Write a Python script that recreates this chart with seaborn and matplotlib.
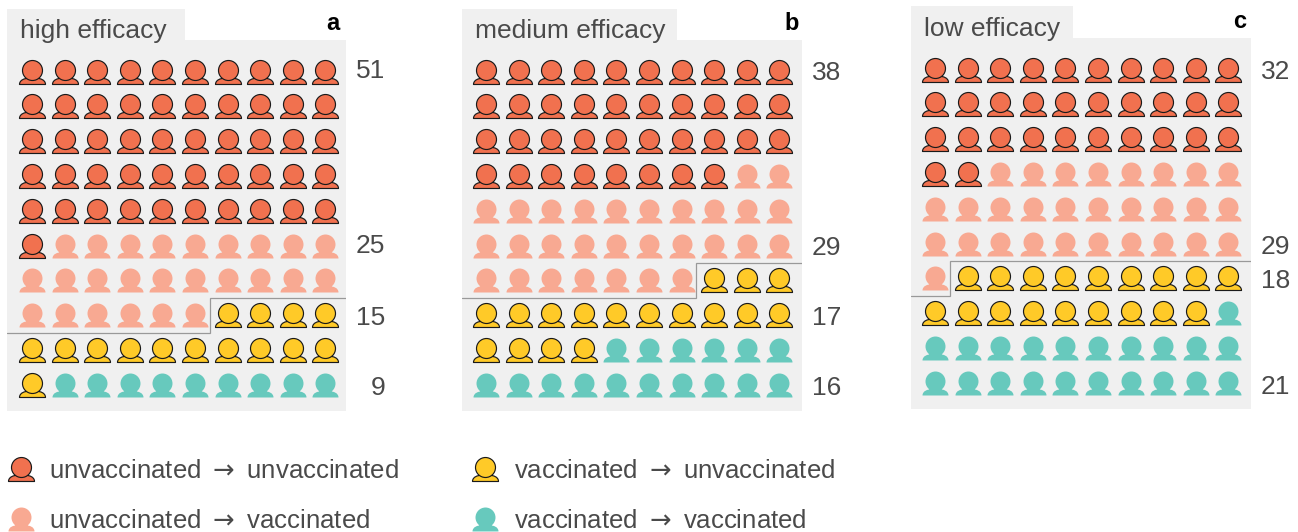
import numpy as np
import pandas as pd
import seaborn as sns
import matplotlib.pyplot as plt
from matplotlib.lines import Line2D
from matplotlib.patches import Rectangle
from matplotlib.path import Path

outcomes = ["uu", "uv", "vu", "vv"]
outcome_labels = [
    r"unvaccinated $\rightarrow$ unvaccinated",
    r"unvaccinated $\rightarrow$ vaccinated",
    r"vaccinated $\rightarrow$ unvaccinated",
    r"vaccinated $\rightarrow$ vaccinated",
]
palette = ["#F1714F", "#F8A992", "#FFCA28", "#67C9BD"]
outlined = [True, False, True, False]

titles = ["high efficacy", "medium efficacy", "low efficacy"]
letters = ["a", "b", "c"]
high_counts = [51, 25, 15, 9]
medium_counts = [38, 29, 17, 16]
low_counts = [32, 29, 18, 21]
label_rows = [[0, 5, 7, 9], [0, 5, 7, 9], [0, 5, 6, 9]]

W, H = 1298, 532
DPI = 100
INK = "#4a4a4a"
PANEL = "#f0f0f0"
FS = 19
# left, top, right, bottom of gray panel + tab width/height, in pixels
boxes = [(7, 40, 346, 411, 178, 31), (462, 40, 802, 411, 215, 31), (911, 38, 1251, 409, 162, 32)]
first_col_px = [32, 486, 935]
COL_PX = 32.6
letter_x = [333, 792, 1240]
# small vertical nudges of the count labels, points
label_nudge = [[0.3, -0.4, -2.2, -2.2], [-1.2, -1.9, -2.2, -2.2], [-1.9, -2.6, -2.2, -2.9]]

sns.set_theme(style="white")
plt.rcParams["font.family"] = ["Liberation Sans", "DejaVu Sans"]


def person():
    # shoulders stop at the head so no line crosses it
    shoulders = Path(
        [(-6, -6), (-7, -6), (-13, -7), (-13, -12), (13, -12), (13, -7), (7, -6), (6, -6)],
        [Path.MOVETO, Path.CURVE4, Path.CURVE4, Path.CURVE4, Path.LINETO,
         Path.CURVE4, Path.CURVE4, Path.CURVE4],
    )
    head = Path.circle((0, 2), 10)
    return Path.make_compound_path(shoulders, head)


PERSON = person()
SIZE = 350


def px_axes(fig, l, t, r, b):
    return fig.add_axes([l / W, 1 - b / H, (r - l) / W, (b - t) / H])


def grid(counts):
    df = pd.DataFrame({"outcome": np.repeat(outcomes, counts)})
    df["col"] = np.arange(len(df)) % 10
    df["row"] = np.arange(len(df)) // 10
    return df


fig = plt.figure(figsize=(W / DPI, H / DPI), dpi=DPI)

for i, counts in enumerate([high_counts, medium_counts, low_counts]):
    l, t, r, b, tab_w, tab_h = boxes[i]
    ax = px_axes(fig, l, t, r, b)
    ax.set_facecolor(PANEL)
    df = grid(counts)
    for name, color, edge in zip(outcomes, palette, outlined):
        sns.scatterplot(
            data=df[df.outcome == name], x="col", y="row", ax=ax, color=color,
            marker=PERSON, s=SIZE, linewidth=0.85 if edge else 0,
            edgecolor="#1a1a1a" if edge else color, legend=False, zorder=3,
        )
    x0 = (l - first_col_px[i]) / COL_PX
    x1 = (r - first_col_px[i]) / COL_PX
    ax.set_xlim(x0, x1)
    ax.set_ylim(9.75, -0.905)
    ax.set_xticks([])
    ax.set_yticks([])
    ax.set_xlabel("")
    ax.set_ylabel("")
    sns.despine(ax=ax, left=True, bottom=True)

    # step line between first and second dose groups
    unvacc = counts[0] + counts[1]
    row, col = unvacc // 10, unvacc % 10
    ax.plot(
        [x0, col - 0.55, col - 0.55, x1],
        [row + 0.5, row + 0.5, row - 0.5, row - 0.5],
        color="#999999", lw=0.9, zorder=2, solid_joinstyle="miter",
    )

    # tab with title
    fig.add_artist(Rectangle((l / W, 1 - t / H), tab_w / W, tab_h / H,
                             transform=fig.transFigure, fc=PANEL, ec="none"))
    fig.text((l + 13) / W, 1 - (t - 9) / H, titles[i], color=INK, fontsize=FS, va="center", ha="left")
    fig.text(letter_x[i] / W, 1 - (t - 17) / H, letters[i], color="black", fontsize=17,
             fontweight="bold", va="center", ha="center")

    # counts right of the panel
    for n, lr, dy in zip(counts, label_rows[i], label_nudge[i]):
        ax.annotate(str(n), (1, lr), xycoords=ax.get_yaxis_transform(),
                    xytext=(28.2, dy), textcoords="offset points",
                    ha="right", va="center", color=INK, fontsize=FS, annotation_clip=False)

handles = [
    Line2D([], [], ls="none", marker=PERSON, ms=SIZE ** 0.5, mfc=c,
           mec="#1a1a1a" if e else c, mew=0.85 if e else 0)
    for c, e in zip(palette, outlined)
]
fig.legend(
    handles, outcome_labels, ncol=2, frameon=False, loc="upper left",
    bbox_to_anchor=(8 / W, 1 - 459 / H), borderaxespad=0, borderpad=0, fontsize=18.5,
    labelcolor=INK, handlelength=1.0, handletextpad=0.6, columnspacing=2.87, labelspacing=1.01,
)

fig.savefig("out.png", dpi=DPI)
